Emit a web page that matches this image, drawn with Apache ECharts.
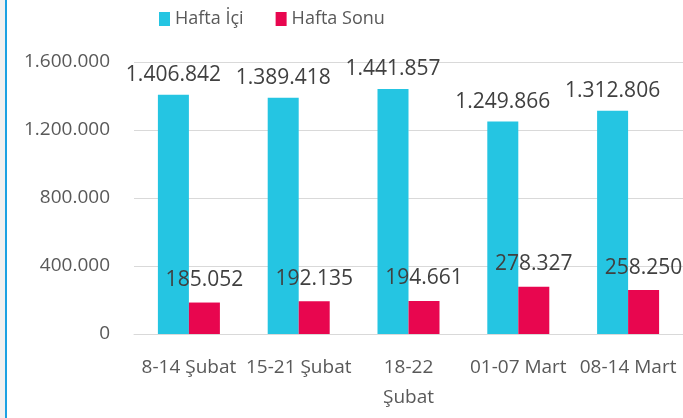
<!DOCTYPE html>
<html>
<head>
<meta charset="utf-8">
<script src="https://cdn.jsdelivr.net/npm/echarts@6/dist/echarts.min.js"></script>
<style>
  html, body { margin: 0; padding: 0; background: #fff; }
  #chart { width: 683px; height: 418px; }
</style>
</head>
<body>
<div id="chart"></div>
<script>
// data
const weeks = ['8-14 Şubat', '15-21 Şubat', '18-22\nŞubat', '01-07 Mart', '08-14 Mart'];
const weekdayValues = [1406842, 1389418, 1441857, 1249866, 1312806];
const weekendValues = [185052, 192135, 194661, 278327, 258250];
const yTicks = [0, 400000, 800000, 1200000, 1600000];

const fontFamily = '"Open Sans", "Noto Sans", sans-serif';

// turkish style thousands separator
function fmt(v) {
    return String(v).replace(/\B(?=(\d{3})+(?!\d))/g, '.');
}

let chart = echarts.init(document.getElementById('chart'));

let option = {
    backgroundColor: '#fff',
    textStyle: { fontFamily: fontFamily },
    graphic: [
        { type: 'rect', shape: { x: 0, y: 0, width: 5, height: 418 }, style: { fill: '#f0f0f0' } },
        { type: 'rect', shape: { x: 5, y: 0, width: 2, height: 418 }, style: { fill: '#1ba1e2' } }
    ],
    legend: {
        left: 154,
        top: 5,
        itemWidth: 11,
        itemHeight: 14,
        itemGap: 32,
        icon: 'rect',
        textStyle: { fontSize: 18, color: '#595959', fontFamily: fontFamily }
    },
    grid: { left: 134, right: 0, top: 62, bottom: 84 },
    xAxis: {
        type: 'category',
        data: weeks,
        axisLine: { lineStyle: { color: '#d9d9d9', width: 1 } },
        axisTick: { show: false },
        axisLabel: { color: '#595959', fontSize: 19, margin: 19, lineHeight: 30, interval: 0 }
    },
    yAxis: {
        type: 'value',
        min: yTicks[0],
        max: yTicks[yTicks.length - 1],
        interval: yTicks[1] - yTicks[0],
        axisLine: { show: false },
        axisTick: { show: false },
        splitLine: { lineStyle: { color: '#d9d9d9', width: 1 } },
        axisLabel: { color: '#595959', fontSize: 19, margin: 24, formatter: fmt }
    },
    series: [
        {
            name: 'Hafta İçi',
            type: 'bar',
            data: weekdayValues,
            barWidth: 31,
            barGap: '0%',
            itemStyle: { color: '#25c5e2' },
            label: {
                show: true, position: 'top', distance: 9,
                color: '#404040', fontSize: 21, formatter: p => fmt(p.value)
            }
        },
        {
            name: 'Hafta Sonu',
            type: 'bar',
            data: weekendValues,
            barWidth: 31,
            itemStyle: { color: '#e8064f' },
            label: {
                show: true, position: 'top', distance: 12,
                color: '#404040', fontSize: 21, formatter: p => fmt(p.value)
            }
        }
    ]
};

chart.setOption(option);
</script>
</body>
</html>
